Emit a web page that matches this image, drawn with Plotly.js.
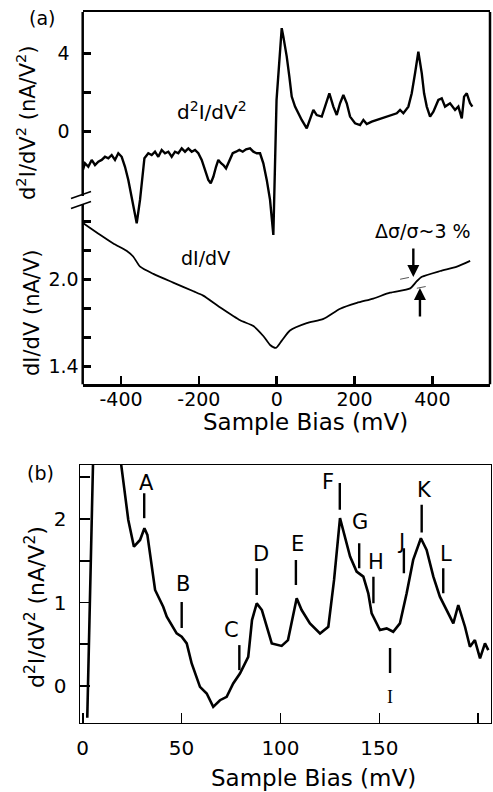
<!DOCTYPE html>
<html>
<head>
<meta charset="utf-8">
<script src="https://cdn.plot.ly/plotly-3.0.1.min.js"></script>
<style>html,body{margin:0;padding:0;background:#fff;}#chart{width:493px;height:792px;}</style>
</head>
<body>
<div id="chart"></div>
<script>
// ---------- Panel (a): d2I/dV2 spectrum (nA/V^2) ----------
const biasA_d2 = [-498,-492.7,-484.2,-475.5,-467,-458.5,-449.8,-441.3,-432.8,-424.1,-415.6,-407.1,-398.4,-389.9,-381.4,-372.7,-359.8,-351.3,-345,-340,-330,-321.3,-312.8,-304.3,-295.6,-287.1,-278.6,-269.9,-261.4,-252.9,-244.2,-235.7,-227.2,-218.5,-210,-201.5,-192.8,-184.3,-175.8,-169.6,-162.9,-156,-150.1,-143.1,-137.2,-130.3,-121.8,-113.1,-104.6,-96.1,-87.4,-78.9,-68.6,-60.1,-51.4,-42.9,-34.4,-25.7,-17.2,-8.7,-0.5,12.8,17,25.7,32.4,38.5,47,55.5,64.2,77.1,85.6,94.1,102.8,115.7,124.1,135.2,145.5,154.2,162.7,171.2,179.9,188.4,201.2,214.1,222.6,231.3,244.2,257,269.9,282.7,295.6,308.4,316.9,325.4,338.2,346.9,355.4,363.9,372.7,378.6,385.5,394,402.5,415.3,424,432.5,445.4,458.2,466.7,475.5,481.4,488.3,496.8,502.7];
const d2A = [-1.95,-1.61,-1.79,-1.44,-1.70,-1.53,-1.44,-1.28,-1.36,-1.19,-1.44,-1.10,-1.28,-1.79,-2.46,-3.32,-4.67,-3.48,-2.2,-1.35,-1.10,-1.19,-1.02,-1.28,-0.93,-1.10,-1.02,-1.28,-1.02,-1.10,-0.85,-1.02,-0.85,-1.02,-0.93,-1.10,-1.44,-1.95,-2.46,-2.63,-2.30,-1.79,-1.44,-1.61,-1.70,-1.87,-1.44,-1.10,-1.02,-0.93,-1.02,-0.90,-0.85,-1.02,-1.10,-1.10,-1.61,-2.46,-3.48,-5.27,1.61,5.28,4.85,3.83,2.81,1.79,1.28,0.94,0.60,0.17,0.60,1.11,0.85,0.77,1.28,1.96,1.28,0.85,1.45,1.87,1.45,0.77,0.43,0.34,0.60,0.39,0.51,0.60,0.68,0.77,0.85,0.94,1.11,0.94,1.28,1.96,2.98,4.08,2.98,1.96,1.28,0.77,1.02,1.62,1.70,1.28,1.45,1.11,1.28,0.68,1.79,1.96,1.45,1.28];

// ---------- Panel (a): dI/dV spectrum (nA/V) ----------
const biasA_d1 = [-497,-454,-420,-386,-369,-351,-317,-266,-214,-189,-146,-94,-60,-34,-17,-2,13,34,77,120,163,206,248,291,343,360,373,420,463,497];
const d1A = [2.39,2.31,2.25,2.20,2.16,2.09,2.04,1.98,1.92,1.89,1.81,1.72,1.68,1.61,1.55,1.53,1.58,1.65,1.70,1.73,1.80,1.84,1.87,1.91,1.94,1.99,2.02,2.06,2.09,2.13];

// ---------- Panel (b): d2I/dV2, 0-205 mV (nA/V^2) ----------
const biasB = [2.3,5.2,6,17.5,19.7,23.05,25.9,29.0,31.2,32.7,36.6,40.7,42.5,47.5,50.05,52.6,55.1,59.3,62.7,66.0,69.4,72.8,76.1,79.5,83.7,85.6,88.0,90.6,95.6,100.6,103.8,108.2,110.7,114.9,120.0,124.2,127.1,130.1,135.2,138.5,141.9,144.4,146.1,150.3,153.7,157.0,160.4,163.8,167.1,171.0,173.9,177.3,180.6,184.0,187.4,189.9,193.3,195.8,198.3,200.9,203.4,205.1];
const d2B = [-0.38,2.65,3.0,3.0,2.607,1.988,1.668,1.749,1.89,1.81,1.15,0.95,0.83,0.63,0.59,0.51,0.27,-0.01,-0.09,-0.25,-0.17,-0.13,0.03,0.15,0.35,0.79,0.99,0.91,0.51,0.48,0.55,1.05,0.91,0.75,0.63,0.71,1.27,2.01,1.55,1.37,1.31,1.11,0.87,0.67,0.69,0.65,0.75,1.11,1.51,1.77,1.63,1.31,1.07,0.91,0.75,0.97,0.71,0.47,0.55,0.33,0.51,0.43];

// Peak labels in panel (b)
const peakNames = ['A','B','C','D','E','F','G','H','I','J','K','L'];
const peakBias  = [31.1,50.05,79.2,88.0,107.8,130.0,139.8,147.0,155.4,162.4,171.4,182.3];
// layout helpers for labels (bar top/bottom and letter anchor), in panel (b) units
const barTop    = [2.31,1.006,0.49,1.41,1.51,2.43,1.71,1.31,0.455,1.65,2.17,1.41];
const barBottom = [2.01,0.695,0.19,1.09,1.21,2.11,1.41,0.99,0.156,1.35,1.84,1.11];
const letterX   = [32.5,50.7,75.0,90.1,108.8,124.0,140.2,148.3,155.4,161.0,172.6,183.7];
const letterY   = [2.43,1.22,0.67,1.58,1.70,2.44,1.96,1.49,-0.13,1.72,2.35,1.58];

const tickA_x = [-400,-200,0,200,400], tickA_x_txt = ['-400','-200','0','200','400'];
const tickA_d2 = [0,4], tickA_d2_minor = [2];
const tickA_d1 = [1.4,2.0], tickA_d1_minor = [1.6,1.8,2.2,2.4];
const tickB_x = [0,50,100,150,200];
const tickB_y = [0,1,2], tickB_y_minor = [0.5,1.5,2.5];

const W = 493, H = 792;
const px = v => v / W;            // paper x from pixel
const py = v => 1 - v / H;        // paper y from pixel
const F = 'DejaVu Sans, Arial, sans-serif';

const traces = [
  {x: biasA_d2, y: d2A, xaxis:'x', yaxis:'y', mode:'lines', line:{color:'#000', width:2.4}, hoverinfo:'skip'},
  {x: biasA_d1, y: d1A, xaxis:'x', yaxis:'y2', mode:'lines', line:{color:'#000', width:1.8, shape:'spline', smoothing:0.6}, hoverinfo:'skip'},
  {x: biasB, y: d2B, xaxis:'x2', yaxis:'y3', mode:'lines', line:{color:'#000', width:2.6}, hoverinfo:'skip'}
];

const shapes = [];
const annotations = [];
function txt(o) { annotations.push(Object.assign({showarrow:false, xanchor:'center', yanchor:'middle'}, o)); }

// Panel (a) broken left axis + right border
const aL = 82.7, aR = 490, aT = 12, aB = 384.3;
shapes.push({type:'line', xref:'paper', yref:'paper', x0:px(aL), x1:px(aL), y0:py(aT), y1:py(196), line:{color:'#000', width:2.5}});
shapes.push({type:'line', xref:'paper', yref:'paper', x0:px(aL), x1:px(aL), y0:py(204), y1:py(aB), line:{color:'#000', width:2.5}});
shapes.push({type:'line', xref:'paper', yref:'paper', x0:px(71), x1:px(91), y0:py(198.5), y1:py(191.5), line:{color:'#000', width:1.6}});
shapes.push({type:'line', xref:'paper', yref:'paper', x0:px(71), x1:px(91), y0:py(208.5), y1:py(201.5), line:{color:'#000', width:1.6}});
shapes.push({type:'line', xref:'paper', yref:'paper', x0:px(aR), x1:px(aR), y0:py(aT), y1:py(aB), line:{color:'#000', width:2.5}});
// dashed guide lines for the step
shapes.push({type:'line', xref:'x', yref:'y2', x0:317, x1:350, y0:2.003, y1:2.021, line:{color:'#555', width:1, dash:'dash'}});
shapes.push({type:'line', xref:'x', yref:'y2', x0:360, x1:402, y0:1.941, y1:1.963, line:{color:'#555', width:1, dash:'dash'}});
// peak bars panel (b)
peakNames.forEach((n,i) => {
  shapes.push({type:'line', xref:'x2', yref:'y3', x0:peakBias[i], x1:peakBias[i], y0:barBottom[i], y1:barTop[i], line:{color:'#000', width:2.4}});
  txt({xref:'x2', yref:'y3', x:letterX[i], y:letterY[i], text:n,
    font:{family: n==='I' ? 'Liberation Serif, serif' : F, size: n==='I' ? 18 : 21, color:'#000'}});
});

// arrows
annotations.push({xref:'x', yref:'y2', x:351, y:2.019, ax:0, ay:-30, text:'', showarrow:true, arrowhead:2, arrowsize:1, arrowwidth:2.4, arrowcolor:'#000'});
annotations.push({xref:'x', yref:'y2', x:368, y:1.943, ax:0, ay:30, text:'', showarrow:true, arrowhead:2, arrowsize:1, arrowwidth:2.4, arrowcolor:'#000'});
// text labels
txt({xref:'x', yref:'y', x:-166, y:1.06, text:'d<sup>2</sup>I/dV<sup>2</sup>', font:{family:F, size:20, color:'#000'}});
txt({xref:'x', yref:'y2', x:-182, y:2.15, text:'dI/dV', font:{family:F, size:19, color:'#000'}});
txt({xref:'x', yref:'y2', x:376, y:2.336, text:'Δσ/σ~3 %', font:{family:F, size:19, color:'#000'}});
txt({xref:'paper', yref:'paper', x:px(42), y:py(18), text:'(a)', font:{family:F, size:19, color:'#000'}});
txt({xref:'paper', yref:'paper', x:px(40), y:py(473), text:'(b)', font:{family:F, size:19, color:'#000'}});
// axis titles
txt({xref:'paper', yref:'paper', x:px(305), y:py(422), text:'Sample Bias (mV)', font:{family:F, size:23, color:'#000'}});
txt({xref:'paper', yref:'paper', x:px(313), y:py(778), text:'Sample Bias (mV)', font:{family:F, size:23, color:'#000'}});
txt({xref:'paper', yref:'paper', x:px(26), y:py(123), text:'d<sup>2</sup>I/dV<sup>2</sup> (nA/V<sup>2</sup>)', textangle:-90, font:{family:F, size:21, color:'#000'}});
txt({xref:'paper', yref:'paper', x:px(32), y:py(313), text:'dI/dV (nA/V)', textangle:-90, font:{family:F, size:21, color:'#000'}});
txt({xref:'paper', yref:'paper', x:px(35), y:py(607), text:'d<sup>2</sup>I/dV<sup>2</sup> (nA/V<sup>2</sup>)', textangle:-90, font:{family:F, size:22, color:'#000'}});

const minorA = vals => ({tickmode:'array', tickvals: vals, ticks:'inside', ticklen:8, tickwidth:2.5, tickcolor:'#000', showgrid:false});
const minorB = vals => ({tickmode:'array', tickvals: vals, ticks:'inside', ticklen:10, tickwidth:1.6, tickcolor:'#000', showgrid:false});

const layout = {
  width: W, height: H,
  margin: {l:0, r:0, t:0, b:0, pad:0},
  paper_bgcolor: '#fff', plot_bgcolor: '#fff',
  showlegend: false,
  font: {family: F, color:'#000'},
  xaxis: {domain:[px(aL), px(aR)], range:[-498.6, 548], anchor:'y',
    tickmode:'array', tickvals: tickA_x, ticktext: tickA_x_txt, ticks:'inside', ticklen:8, tickwidth:2.5, tickcolor:'#000',
    showline:true, mirror:true, linewidth:2.5, linecolor:'#000', showgrid:false, zeroline:false,
    tickfont:{family:F, size:19, color:'#000'}, ticklabelstandoff:-4},
  yaxis: {domain:[py(aB), py(aT)], range:[-12.888, 6.107], anchor:'x',
    tickmode:'array', tickvals: tickA_d2, ticks:'inside', ticklen:8, tickwidth:2.5, tickcolor:'#000', minor: minorA(tickA_d2_minor),
    showline:false, showgrid:false, zeroline:false, tickfont:{family:F, size:19, color:'#000'}, ticklabelstandoff:12},
  yaxis2: {overlaying:'y', side:'left', anchor:'x', range:[1.2786, 3.846],
    tickmode:'array', tickvals: tickA_d1, tickformat:'.1f', ticks:'inside', ticklen:8, tickwidth:2.5, tickcolor:'#000', minor: minorA(tickA_d1_minor),
    showline:false, showgrid:false, zeroline:false, tickfont:{family:F, size:19, color:'#000'}, ticklabelstandoff:3},
  xaxis2: {domain:[px(80), px(490.7)], range:[-1.37, 206.3], anchor:'y3',
    tickmode:'array', tickvals: tickB_x, ticks:'inside', ticklen:10, tickwidth:1.6, tickcolor:'#000',
    showline:true, mirror:true, linewidth:1.4, linecolor:'#000', showgrid:false, zeroline:false,
    tickfont:{family:F, size:20, color:'#000'}, ticklabelstandoff:7},
  yaxis3: {domain:[py(723), py(465)], range:[-0.443, 2.647], anchor:'x2',
    tickmode:'array', tickvals: tickB_y, ticks:'inside', ticklen:10, tickwidth:1.6, tickcolor:'#000', minor: minorB(tickB_y_minor),
    showline:true, mirror:true, linewidth:1.4, linecolor:'#000', showgrid:false, zeroline:false,
    tickfont:{family:F, size:20, color:'#000'}, ticklabelstandoff:8},
  shapes: shapes,
  annotations: annotations
};

Plotly.newPlot('chart', traces, layout, {staticPlot:true, displayModeBar:false});
</script>
</body>
</html>
